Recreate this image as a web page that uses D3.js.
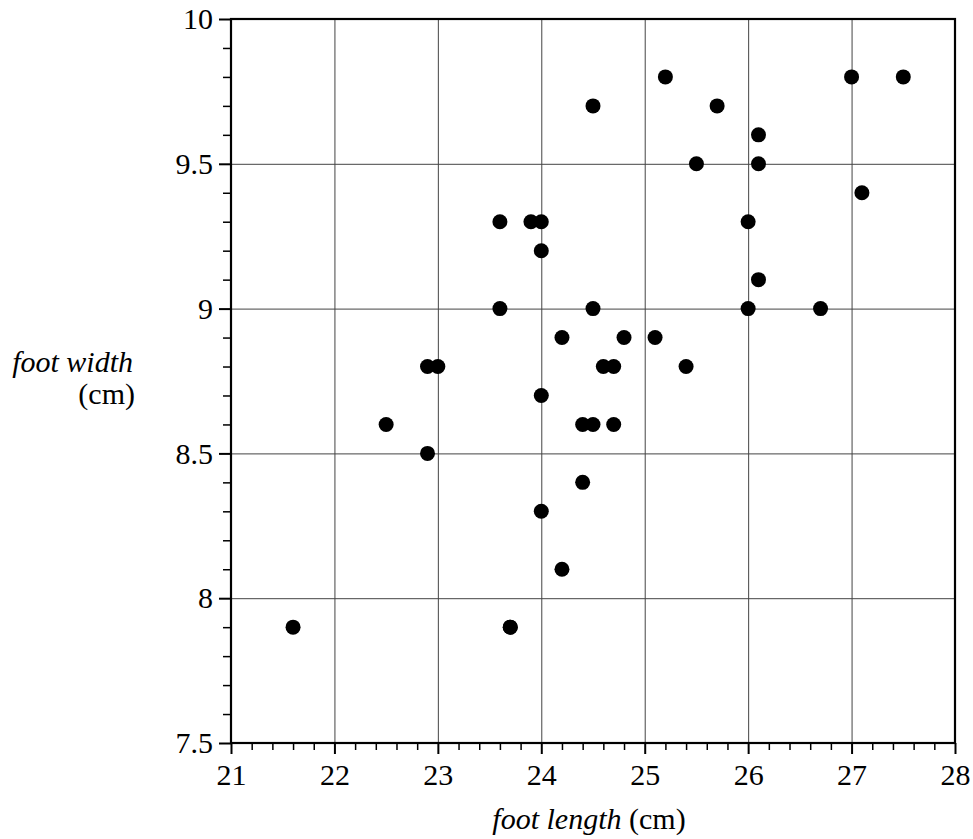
<!DOCTYPE html>
<html>
<head>
<meta charset="utf-8">
<script src="https://cdn.jsdelivr.net/npm/d3@7"></script>
<style>
  body { margin: 0; background: #fff; }
</style>
</head>
<body>
<svg id="chart" width="973" height="839"></svg>
<script>
// foot length / foot width (cm), one entry per child
var footLength = [21.6, 22.5, 22.9, 22.9, 23.0, 23.6, 23.9, 24.0, 24.0, 23.6,
                  24.5, 24.2, 24.8, 25.1, 24.6, 24.7, 25.4, 24.4, 24.5, 24.7,
                  24.0, 24.4, 24.0, 24.2, 23.7, 23.7, 25.2, 27.0, 27.5, 25.7,
                  24.5, 26.1, 25.5, 26.1, 27.1, 26.0, 26.1, 26.0, 26.7];
var footWidth  = [7.9, 8.6, 8.5, 8.8, 8.8, 9.3, 9.3, 9.3, 9.2, 9.0,
                  9.0, 8.9, 8.9, 8.9, 8.8, 8.8, 8.8, 8.6, 8.6, 8.6,
                  8.7, 8.4, 8.3, 8.1, 7.9, 7.9, 9.8, 9.8, 9.8, 9.7,
                  9.7, 9.6, 9.5, 9.5, 9.4, 9.3, 9.1, 9.0, 9.0];

var xTicks = [21, 22, 23, 24, 25, 26, 27, 28];
var yTicks = [7.5, 8, 8.5, 9, 9.5, 10];

var FONT = "Liberation Serif";

var svg = d3.select("#chart");
var margin = {left: 231, top: 19, right: 18, bottom: 96};
var width = 973 - margin.left - margin.right;
var height = 839 - margin.top - margin.bottom;

var x = d3.scaleLinear().domain([21, 28]).range([0, width]);
var y = d3.scaleLinear().domain([7.5, 10]).range([height, 0]);

var g = svg.append("g")
    .attr("transform", "translate(" + margin.left + "," + margin.top + ")");

// grid
g.append("g").attr("class", "grid")
    .attr("transform", "translate(0," + height + ")")
    .call(d3.axisBottom(x).tickValues(xTicks).tickSize(-height).tickFormat(""))
    .call(s => s.select(".domain").remove())
    .selectAll("line").attr("stroke", "#444").attr("stroke-width", 1);
g.append("g").attr("class", "grid")
    .call(d3.axisLeft(y).tickValues(yTicks).tickSize(-width).tickFormat(""))
    .call(s => s.select(".domain").remove())
    .selectAll("line").attr("stroke", "#444").attr("stroke-width", 1);

// minor ticks
var xMinor = d3.range(21, 28.001, 0.2).filter(v => Math.abs(v - Math.round(v)) > 1e-6);
var yMinor = d3.range(7.5, 10.001, 0.1).filter(v => Math.abs(v * 2 - Math.round(v * 2)) > 1e-6);
g.append("g")
    .attr("transform", "translate(0," + height + ")")
    .call(d3.axisBottom(x).tickValues(xMinor).tickSize(7).tickFormat(""))
    .call(s => s.select(".domain").remove())
    .selectAll("line").attr("stroke", "#000").attr("stroke-width", 1.5);
g.append("g")
    .call(d3.axisLeft(y).tickValues(yMinor).tickSize(8).tickFormat(""))
    .call(s => s.select(".domain").remove())
    .selectAll("line").attr("stroke", "#000").attr("stroke-width", 1.5);

// major ticks + labels
var xAxis = g.append("g")
    .attr("transform", "translate(0," + height + ")")
    .call(d3.axisBottom(x).tickValues(xTicks).tickSize(11).tickPadding(10).tickFormat(d => d));
xAxis.attr("font-family", FONT).attr("font-size", 30);
xAxis.select(".domain").remove();
xAxis.selectAll("line").attr("stroke", "#000").attr("stroke-width", 2);
xAxis.selectAll("text").attr("font-family", FONT).attr("font-size", 30).attr("fill", "#000");

var yAxis = g.append("g")
    .call(d3.axisLeft(y).tickValues(yTicks).tickSize(12).tickPadding(6).tickFormat(d => d));
yAxis.attr("font-family", FONT).attr("font-size", 30);
yAxis.select(".domain").remove();
yAxis.selectAll("line").attr("stroke", "#000").attr("stroke-width", 2);
yAxis.selectAll("text").attr("font-family", FONT).attr("font-size", 30).attr("fill", "#000");

// frame
g.append("rect")
    .attr("width", width).attr("height", height)
    .attr("fill", "none").attr("stroke", "#000").attr("stroke-width", 2.2);

// points
g.append("g").selectAll("circle")
    .data(d3.range(footLength.length))
    .join("circle")
    .attr("cx", i => x(footLength[i]))
    .attr("cy", i => y(footWidth[i]))
    .attr("r", 7.5)
    .attr("fill", "#000");

// axis titles
var xt = svg.append("text")
    .attr("x", margin.left + width / 2 - 4)
    .attr("y", 829)
    .attr("text-anchor", "middle")
    .attr("font-family", FONT)
    .attr("font-size", 30);
xt.append("tspan").attr("font-style", "italic").text("foot length");
xt.append("tspan").text(" (cm)");

svg.append("text")
    .attr("x", 133).attr("y", 372)
    .attr("text-anchor", "end")
    .attr("font-family", FONT)
    .attr("font-size", 30)
    .attr("font-style", "italic")
    .text("foot width");
svg.append("text")
    .attr("x", 135).attr("y", 404)
    .attr("text-anchor", "end")
    .attr("font-family", FONT)
    .attr("font-size", 30)
    .text("(cm)");
</script>
</body>
</html>
